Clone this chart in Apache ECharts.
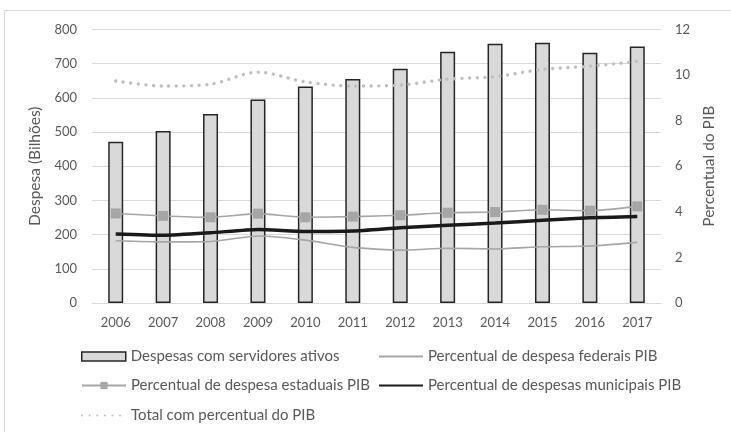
<!DOCTYPE html>
<html lang="pt">

<head>
  <meta charset="UTF-8">
  <title>Despesas com servidores</title>
  <script src="https://cdn.jsdelivr.net/npm/echarts@6.0.0/dist/echarts.min.js"></script>
  <style>
    html, body { margin: 0; padding: 0; background: #fff; }
    #main { width: 731px; height: 432px; }
  </style>
</head>

<body>
  <div id="main"></div>
  <script type="text/javascript">
    var anos = ['2006', '2007', '2008', '2009', '2010', '2011', '2012', '2013', '2014', '2015', '2016', '2017'];
    // despesa em bilhoes (eixo esquerdo)
    var despesas = [472, 503, 553, 595, 633, 655, 685, 735, 758, 761, 732, 750];
    // percentuais do PIB (eixo direito)
    var federais = [2.73, 2.68, 2.70, 2.94, 2.76, 2.44, 2.32, 2.40, 2.37, 2.47, 2.50, 2.66];
    var estaduais = [3.93, 3.82, 3.76, 3.92, 3.76, 3.79, 3.85, 3.96, 3.99, 4.09, 4.05, 4.24];
    var municipais = [3.03, 2.97, 3.08, 3.23, 3.14, 3.16, 3.30, 3.41, 3.51, 3.63, 3.74, 3.79];
    var total = [9.74, 9.52, 9.60, 10.13, 9.70, 9.52, 9.56, 9.82, 9.93, 10.25, 10.39, 10.60];

    var nomes = [
      'Despesas com servidores ativos',
      'Percentual de despesa federais PIB',
      'Percentual de despesa estaduais PIB',
      'Percentual de despesas municipais PIB',
      'Total com percentual do PIB'
    ];

    var fonte = 'Lato';
    var cinzaTexto = '#595959';

    var myChart = echarts.init(document.getElementById('main'));

    // uma legenda por item, para posicionar como no original
    function legenda(item, left, centro) {
      return {
        data: [item],
        left: left,
        top: centro - 9,
        itemWidth: 44,
        itemHeight: 9,
        itemGap: 0,
        padding: 0,
        selectedMode: false,
        textStyle: { color: cinzaTexto, fontFamily: fonte, fontSize: 15 }
      };
    }

    var semSimbolo = { opacity: 0 };

    var option = {
      animation: false,
      textStyle: { fontFamily: fonte },
      graphic: [{
        type: 'rect',
        shape: { x: 4.5, y: 10.5, width: 740, height: 440 },
        style: { fill: 'none', stroke: '#d9d9d9', lineWidth: 1 },
        silent: true
      }],
      grid: { left: 92, right: 70, top: 29.5, bottom: 129 },
      legend: [
        legenda({ name: nomes[0], icon: 'rect', itemStyle: { borderWidth: 1.5 } }, 81, 358),
        legenda({ name: nomes[1], itemStyle: semSimbolo }, 378, 358),
        legenda({ name: nomes[2] }, 81, 387),
        legenda({ name: nomes[3], itemStyle: semSimbolo }, 378, 387),
        legenda({ name: nomes[4], itemStyle: semSimbolo }, 81, 417)
      ],
      xAxis: {
        type: 'category',
        data: anos,
        axisTick: { show: false },
        axisLine: { show: true, lineStyle: { color: '#d9d9d9' } },
        axisLabel: { color: cinzaTexto, fontSize: 13, margin: 13 }
      },
      yAxis: [{
        type: 'value',
        min: 0,
        max: 800,
        interval: 100,
        name: 'Despesa (Bilhões)',
        nameLocation: 'middle',
        nameGap: 44,
        nameTextStyle: { color: cinzaTexto, fontSize: 15.5 },
        axisLabel: { color: cinzaTexto, fontSize: 13, margin: 15 },
        splitLine: { lineStyle: { color: '#d9d9d9' } }
      }, {
        type: 'value',
        min: 0,
        max: 12,
        interval: 2,
        name: 'Percentual do PIB',
        nameLocation: 'middle',
        nameGap: 38,
        nameTextStyle: { color: cinzaTexto, fontSize: 15.5 },
        axisLabel: { color: cinzaTexto, fontSize: 13, margin: 14 },
        splitLine: { show: false }
      }],
      series: [{
        name: nomes[0],
        type: 'bar',
        data: despesas,
        barWidth: 15,
        itemStyle: { color: '#d9d9d9', borderColor: '#262626', borderWidth: 1.5 }
      }, {
        name: nomes[1],
        type: 'line',
        yAxisIndex: 1,
        data: federais,
        smooth: 0.2,
        symbol: 'none',
        lineStyle: { color: '#a6a6a6', width: 1.6 },
        itemStyle: { color: '#a6a6a6' }
      }, {
        name: nomes[2],
        type: 'line',
        yAxisIndex: 1,
        data: estaduais,
        smooth: 0.2,
        symbol: 'rect',
        symbolSize: 10,
        lineStyle: { color: '#a6a6a6', width: 1.6 },
        itemStyle: { color: '#a6a6a6' }
      }, {
        name: nomes[3],
        type: 'line',
        yAxisIndex: 1,
        data: municipais,
        smooth: 0.2,
        symbol: 'none',
        lineStyle: { color: '#1a1a1a', width: 3.5 },
        itemStyle: { color: '#1a1a1a' }
      }, {
        name: nomes[4],
        type: 'line',
        yAxisIndex: 1,
        data: total,
        smooth: 0.3,
        symbol: 'none',
        lineStyle: { color: '#bfbfbf', width: 3.4, type: [0.01, 7.6], cap: 'round' },
        itemStyle: { color: '#bfbfbf' }
      }]
    };

    myChart.setOption(option);

    window.onresize = function() {
      myChart.resize();
    }
  </script>
</body>

</html>
